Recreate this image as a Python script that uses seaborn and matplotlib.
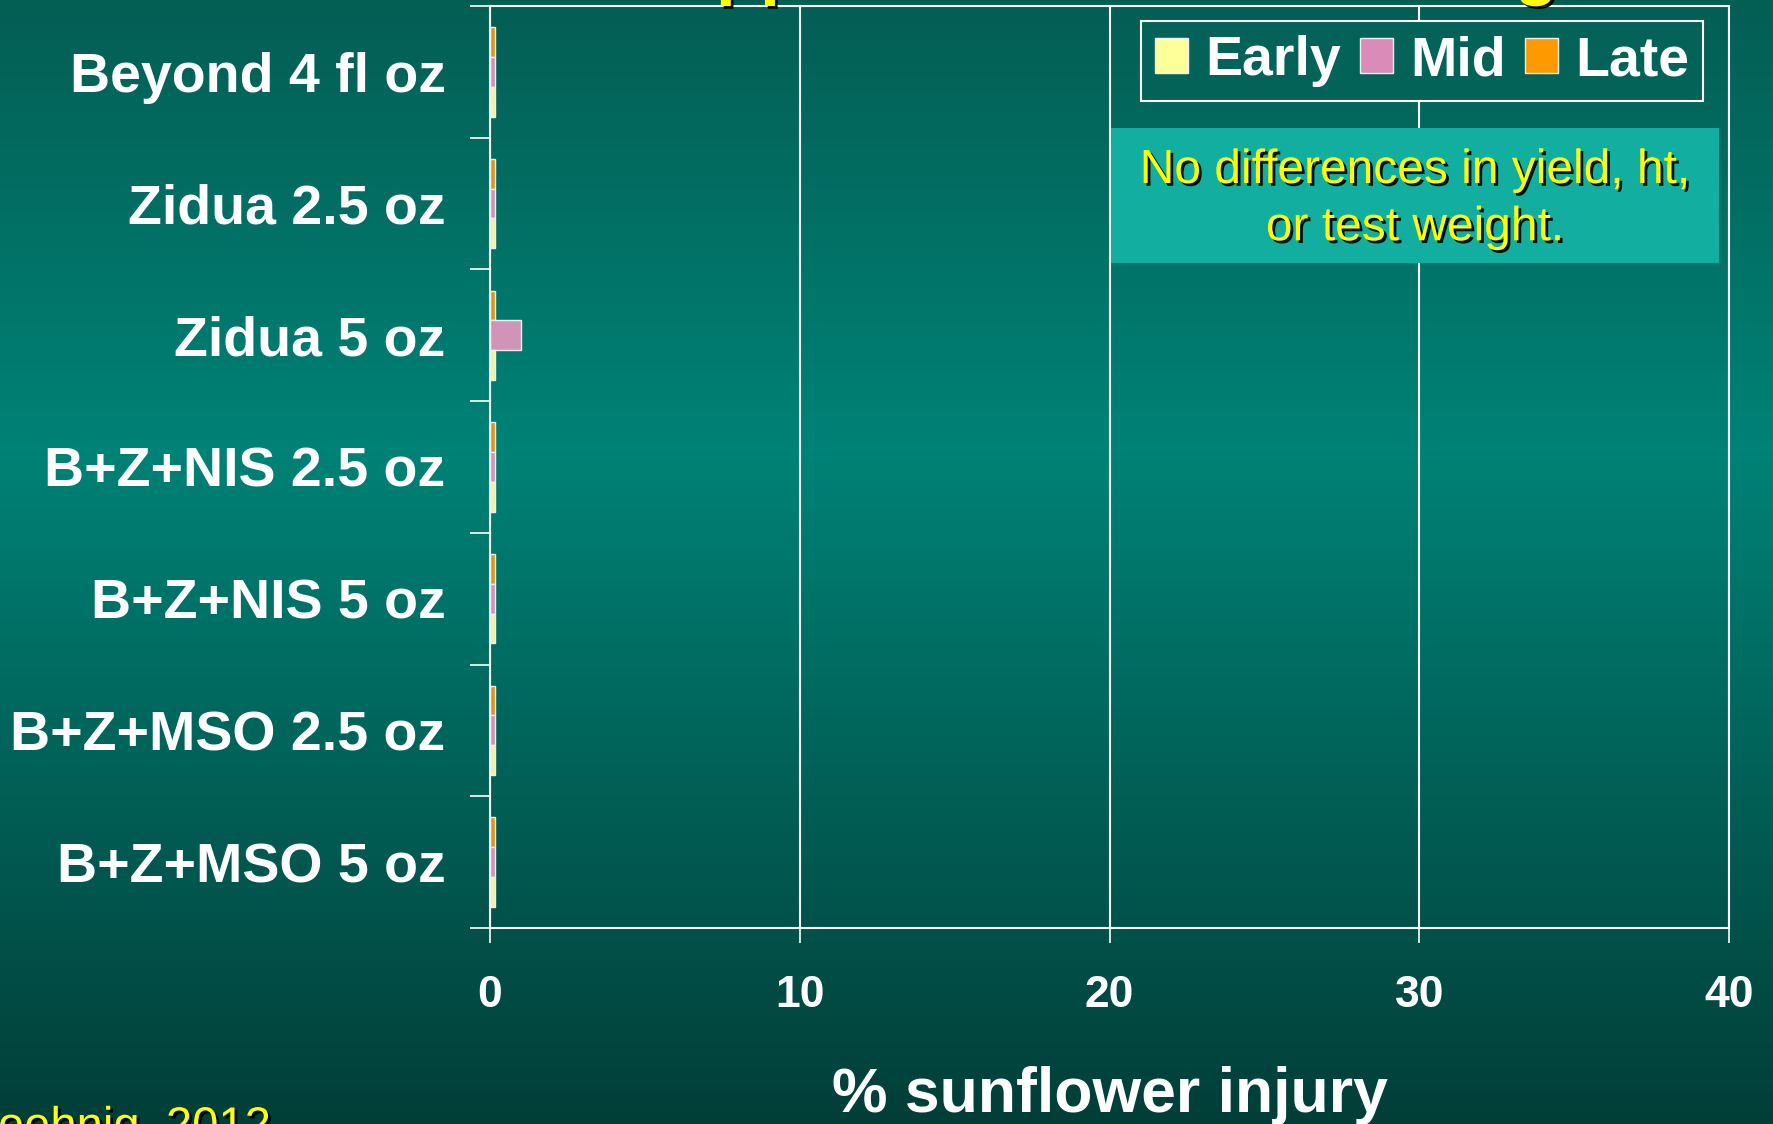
import numpy as np
import pandas as pd
import seaborn as sns
import matplotlib.pyplot as plt
import matplotlib.patheffects as pe
from matplotlib.patches import Rectangle, Patch
from matplotlib.colors import LinearSegmentedColormap

# Data
treatments = ["Beyond 4 fl oz", "Zidua 2.5 oz", "Zidua 5 oz", "B+Z+NIS 2.5 oz",
              "B+Z+NIS 5 oz", "B+Z+MSO 2.5 oz", "B+Z+MSO 5 oz"]
early = [0.15, 0.15, 0.15, 0.15, 0.15, 0.15, 0.15]
mid = [0.15, 0.15, 1.0, 0.15, 0.15, 0.15, 0.15]
late = [0.15, 0.15, 0.15, 0.15, 0.15, 0.15, 0.15]
timings = ["Early", "Mid", "Late"]
colors = ["#FFFF99", "#DA8BB7", "#FF9900"]
xticks = [0, 10, 20, 30, 40]

df = pd.DataFrame({
    "treatment": treatments * 3,
    "timing": ["Early"] * 7 + ["Mid"] * 7 + ["Late"] * 7,
    "injury": early + mid + late,
})

plt.rcParams["font.family"] = ["Liberation Sans", "DejaVu Sans"]
shadow = [pe.withSimplePatchShadow(offset=(2, -2), shadow_rgbFace="black", alpha=0.9)]

fig = plt.figure(figsize=(17.73, 11.24), dpi=100)

# slide background gradient
bg = fig.add_axes([0, 0, 1, 1], zorder=-10)
cmap = LinearSegmentedColormap.from_list(
    "bg", [(0, "#045E54"), (0.4, "#008276"), (1, "#023E38")])
bg.imshow(np.linspace(0, 1, 256).reshape(-1, 1), aspect="auto", cmap=cmap,
          extent=[0, 1, 0, 1])
bg.axis("off")

ax = fig.add_axes([0.2764, 0.17438, 0.6988, 0.82028])
ax.set_facecolor("none")
sns.barplot(data=df, x="injury", y="treatment", hue="timing",
            hue_order=["Late", "Mid", "Early"], order=treatments,
            palette=dict(zip(timings, colors)), width=0.68, errorbar=None,
            edgecolor="#F0F0F0", linewidth=1, orient="h", legend=False, ax=ax)

ax.set_xlim(0, 40)
ax.set_ylim(6.5, -0.5)
ax.set_axisbelow(True)
ax.grid(axis="x", color="white", lw=1.5)
ax.grid(axis="y", visible=False)
for s in ax.spines.values():
    s.set_color("white")
    s.set_linewidth(1.5)

ax.set_yticks(range(len(treatments)))
ax.set_yticklabels(treatments, fontsize=40, fontweight="bold", color="white")
ax.set_yticks(np.arange(-0.5, len(treatments), 1), minor=True)
ax.tick_params(axis="y", which="major", length=0, pad=32)
ax.tick_params(axis="y", which="minor", length=14.4, width=1.2, color="white")

ax.set_xticks(xticks)
ax.set_xticklabels([str(t) for t in xticks], fontsize=32, fontweight="bold", color="white")
ax.tick_params(axis="x", length=11, width=1.2, color="white", pad=23)

ax.set_ylabel("")
ax.set_xlabel("% sunflower injury", fontsize=45, fontweight="bold", color="white")
ax.xaxis.set_label_coords(0.5, -0.15)

handles = [Patch(facecolor=c, edgecolor="#F0F0F0") for c in colors]
leg = ax.legend(handles, timings, ncol=3, loc="upper right",
                bbox_to_anchor=(0.979, 0.9835), borderaxespad=0, frameon=True,
                fancybox=False, edgecolor="white", facecolor="#036358",
                framealpha=1, prop={"weight": "bold", "size": 40},
                labelcolor="white", handlelength=0.6, handleheight=0.6,
                handletextpad=0.3, columnspacing=0.35, borderpad=0.25)
leg.get_frame().set_linewidth(1.5)
leg.set_zorder(6)

ax.add_patch(Rectangle((0.501, 0.7213), 0.491, 0.1464, transform=ax.transAxes,
                       facecolor="#12AFA0", edgecolor="none", zorder=5))
ax.text(0.7466, 0.7905, "No differences in yield, ht,\nor test weight.",
        transform=ax.transAxes, ha="center", va="center", fontsize=34.5,
        color="#FFFF00", linespacing=1.35, zorder=6, path_effects=shadow)

# slide title and source, mostly cut off by the slide edges
fig.text(463 / 1773, 1 + 9 / 1124, "Zidua applied at different timings",
         fontsize=52, fontweight="bold", color="#FFFF00", ha="left",
         va="baseline", path_effects=shadow)
fig.text(271 / 1773, 1 - 1140 / 1124, "Hoehnig, 2012", fontsize=34,
         color="#FFFF00", ha="right", va="baseline", path_effects=shadow)

fig.savefig("out.png", dpi=100)
